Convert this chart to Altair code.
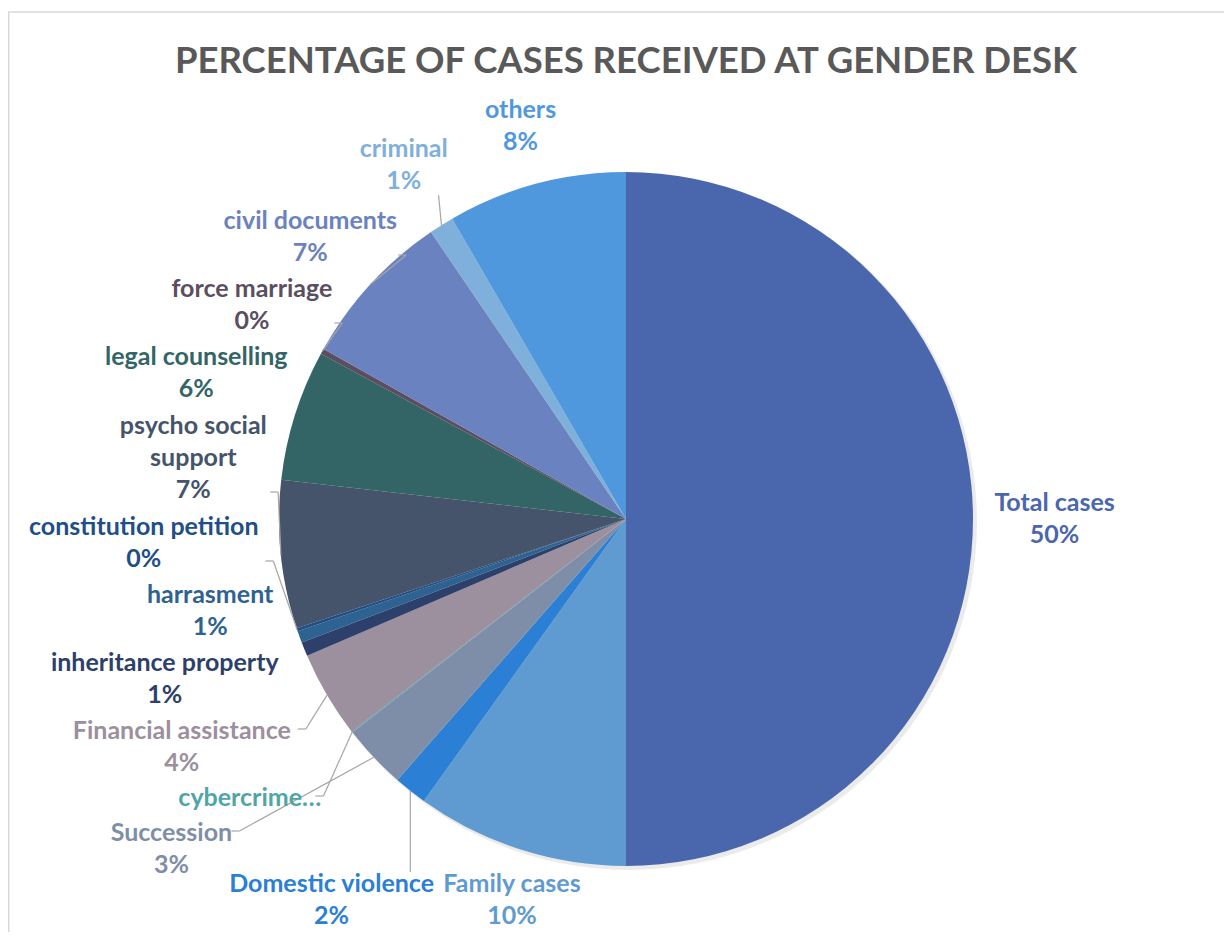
import math
import altair as alt
import pandas as pd

# ---- data (percent of all cases) ----
categories = [
    "Total cases", "Family cases", "Domestic violence", "Succession", "cybercrime…",
    "Financial assistance", "inheritance property", "harrasment", "constitution petition",
    "psycho social\nsupport", "legal counselling", "force marriage", "civil documents",
    "criminal", "others",
]
values = [50.0, 9.9, 1.55, 3.0, 0.05, 4.05, 0.66, 0.55, 0.14, 6.9, 6.1, 0.25, 7.35, 1.15, 8.35]
colors = [
    "#4A66AC", "#5F9BD1", "#2B7FD5", "#7F8EA8", "#4FA5A8",
    "#9C8F9E", "#2D3F6B", "#2D6291", "#1F4F85", "#45546A",
    "#336567", "#5B4E61", "#6A82BF", "#7FB0DC", "#5098DD",
]
title_text = "PERCENTAGE OF CASES RECEIVED AT GENDER DESK"

# ---- layout constants ----
W, H = 1216, 924
CX, CY, R = 618, 511, 347
FONT = "Lato"
FS = 25
LH = 32          # text line height
L = 34           # stacking step for left labels
CW = 11.2        # approx char width for label box estimate
G = 20           # gap between pie and labels
RA, RB_LOW = 365, 550
SOFF = 24
BFLOOR = 40
GAPX = 18
LEAD_MIN = 29

# ---- label layout derived from the values ----
total = sum(values)
rows = []
cum = 0.0
for i, (cat, v) in enumerate(zip(categories, values)):
    cum += v
    mid = 2 * math.pi * (cum - v / 2) / total
    s, c = math.sin(mid), math.cos(mid)
    pct = f"{int(math.floor(v / total * 100 + 0.5))}%"
    label = cat if "…" in cat else cat + "\n" + pct
    lines = label.split("\n")
    nl = len(lines)
    maxch = max(len(t) for t in lines)
    if c > 0.7071:
        grp = "top"
    elif c < -0.7071:
        grp = "bottom"
    else:
        grp = "right" if s > 0 else "left"
    hw = maxch * CW / 2
    hh = nl * LH / 2
    d = R + G + hw * abs(s) + hh * abs(c)
    rows.append(dict(cat=cat, value=v, idx=i, s=s, c=c, label=label, nl=nl, grp=grp,
                     hw=hw, hh=hh, nx=CX + d * s, ny=CY - d * c))

# left side: stack labels top-to-bottom along the pie
left = sorted([r for r in rows if r["grp"] == "left"], key=lambda r: -r["idx"])
gl = sum(r["nl"] for r in left)
cb = 0
for r in left:
    sy = CY + SOFF - gl * L / 2 + (cb + r["nl"] / 2) * L
    cb += r["nl"]
    rb = RA if sy - CY < 0 else RB_LOW
    r["lx"] = CX - RA * math.sqrt(max(0.0, 1 - ((sy - CY) / rb) ** 2)) - r["hw"]
    r["ly"] = sy

# bottom labels: below the pie, kept on the page, pushed apart horizontally
bottom = sorted([r for r in rows if r["grp"] == "bottom"], key=lambda r: r["nx"])
for r in bottom:
    r["lx"] = r["nx"]
    r["ly"] = min(max(r["ny"], CY + R + BFLOOR), H - 16 - (r["nl"] - 1) * LH / 2)
for a, b in zip(bottom, bottom[1:]):
    ov = (a["lx"] + a["hw"] + GAPX) - (b["lx"] - b["hw"])
    if ov > 0:
        a["lx"] -= ov / 2
        b["lx"] += ov / 2
# left labels that would collide with bottom labels move further left
for r in left:
    for b in bottom:
        if abs(r["ly"] - b["ly"]) < r["hh"] + b["hh"]:
            r["lx"] = min(r["lx"], b["lx"] - b["hw"] - GAPX / 2 - r["hw"])

for r in rows:
    if r["grp"] in ("top", "right"):
        r["lx"], r["ly"] = r["nx"], r["ny"]
    # vega draws the first line at y, following lines below it
    r["ty"] = r["ly"] - (r["nl"] - 1) * LH / 2
    ex, ey = CX + R * r["s"], CY - R * r["c"]
    g = r["grp"]
    if g == "left":
        ax = r["lx"] + r["hw"] + 4
        ay = min(max(ey, r["ly"] - r["hh"] + 14), r["ly"] + r["hh"] - 14)
        tx = ax + 8
    elif g == "right":
        ax = r["lx"] - r["hw"] - 4
        ay = min(max(ey, r["ly"] - r["hh"] + 14), r["ly"] + r["hh"] - 14)
        tx = ax - 8
    else:
        ax = min(max(ex, r["lx"] - r["hw"] + 10), r["lx"] + r["hw"] - 10)
        ay = r["ly"] - r["hh"] + 4 if g == "bottom" else r["ly"] + r["hh"] - 2
        tx = ax
    r.update(ex=ex, ey=ey, ax=ax, ay=ay, tx=tx,
             dist=math.hypot(ex - tx, ey - ay))

df = pd.DataFrame(rows)
df_lead = df[df["dist"] > LEAD_MIN]

color_scale = alt.Scale(domain=categories, range=colors)

shadow = alt.Chart(pd.DataFrame({"v": [total]})).mark_arc(
    outerRadius=R + 1, color="#000000", opacity=0.08
).encode(theta=alt.Theta("v:Q"), x=alt.value(CX + 3), y=alt.value(CY + 3))

pie = alt.Chart(df).mark_arc(outerRadius=R).encode(
    theta=alt.Theta("value:Q", stack=True),
    order=alt.Order("idx:Q"),
    color=alt.Color("cat:N", scale=color_scale, legend=None),
    x=alt.value(CX), y=alt.value(CY),
)

texts = alt.Chart(df).mark_text(
    font=FONT, fontSize=FS, fontWeight="bold", lineHeight=LH, lineBreak="\n",
    align="center", baseline="middle",
).encode(
    x=alt.X("lx:Q", scale=None, axis=None),
    y=alt.Y("ty:Q", scale=None, axis=None),
    text=alt.Text("label:N"),
    color=alt.Color("cat:N", scale=color_scale, legend=None),
)

leader_tick = alt.Chart(df_lead).mark_rule(color="#A6A6A6", strokeWidth=1.2).encode(
    x=alt.X("ax:Q", scale=None, axis=None), x2="tx:Q",
    y=alt.Y("ay:Q", scale=None, axis=None), y2="ay:Q",
)
leader_diag = alt.Chart(df_lead).mark_rule(color="#A6A6A6", strokeWidth=1.2).encode(
    x=alt.X("tx:Q", scale=None, axis=None), x2="ex:Q",
    y=alt.Y("ay:Q", scale=None, axis=None), y2="ey:Q",
)

title = alt.Chart(pd.DataFrame({"t": [title_text]})).mark_text(
    font=FONT, fontSize=36.5, fontWeight="bold", color="#595959",
    align="center", baseline="middle",
).encode(text="t:N", x=alt.value(CX), y=alt.value(54))

one = pd.DataFrame({"k": [0]})
border_top = alt.Chart(one).mark_rule(color="#D9D9D9", strokeWidth=1.5).encode(
    x=alt.value(0), x2=alt.value(W), y=alt.value(4)
)
border_left = alt.Chart(one).mark_rule(color="#D9D9D9", strokeWidth=1.5).encode(
    x=alt.value(0.75), y=alt.value(4), y2=alt.value(H)
)

chart = alt.layer(
    border_top, border_left, shadow, pie, leader_tick, leader_diag, texts, title
).properties(
    width=W, height=H, padding=0, autosize=alt.AutoSizeParams(type="none")
).configure_view(strokeWidth=0)

chart.save("out.html", embed_options={"renderer": "svg", "actions": False})
